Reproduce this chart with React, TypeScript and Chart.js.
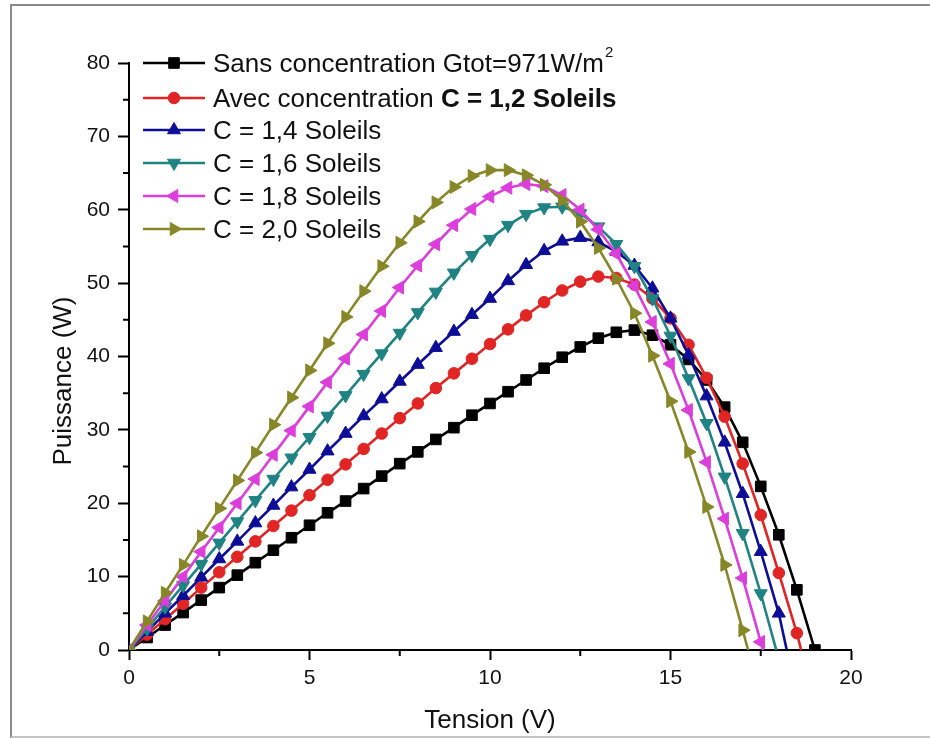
import React, { useEffect, useRef } from 'react';
import { Chart, registerables } from 'chart.js';

Chart.register(...registerables);

// ---------- data ----------
const voltage = [0, 0.5, 1, 1.5, 2, 2.5, 3, 3.5, 4, 4.5, 5, 5.5, 6, 6.5, 7, 7.5, 8, 8.5, 9, 9.5, 10, 10.5, 11, 11.5, 12, 12.5, 13, 13.5, 14, 14.5, 15, 15.5, 16, 16.5, 17, 17.5, 18, 18.5, 19];

const powerSansConcentration = [0, 1.7, 3.4, 5.1, 6.8, 8.5, 10.2, 11.9, 13.6, 15.3, 17.0, 18.7, 20.3, 22.0, 23.7, 25.4, 27.0, 28.7, 30.3, 32.0, 33.6, 35.2, 36.8, 38.4, 39.9, 41.3, 42.5, 43.3, 43.6, 42.9, 41.6, 39.6, 36.8, 33.1, 28.3, 22.3, 15.7, 8.2, 0];
const powerC12 = [0, 2.1, 4.2, 6.3, 8.5, 10.6, 12.7, 14.8, 16.9, 19.0, 21.1, 23.2, 25.3, 27.4, 29.5, 31.6, 33.6, 35.7, 37.7, 39.7, 41.7, 43.7, 45.6, 47.4, 49.0, 50.2, 50.9, 50.7, 49.8, 47.9, 45.2, 41.6, 37.1, 31.8, 25.4, 18.4, 10.5, 2.3];
const powerC14 = [0, 2.5, 5.0, 7.4, 9.9, 12.4, 14.8, 17.3, 19.7, 22.2, 24.6, 27.1, 29.5, 31.9, 34.2, 36.6, 38.9, 41.2, 43.4, 45.7, 47.9, 50.3, 52.5, 54.4, 55.7, 56.2, 55.6, 54.3, 52.4, 49.3, 45.2, 40.2, 34.6, 28.3, 21.3, 13.4, 5.0];
const powerC16 = [0, 2.9, 5.9, 8.8, 11.7, 14.6, 17.5, 20.4, 23.3, 26.2, 29.0, 31.9, 34.7, 37.6, 40.4, 43.2, 46.0, 48.8, 51.4, 53.8, 56.0, 57.9, 59.4, 60.3, 60.4, 59.5, 57.7, 55.3, 52.3, 47.9, 42.8, 37.0, 30.9, 23.6, 15.9, 7.7];
const powerC18 = [0, 3.4, 6.7, 10.0, 13.4, 16.7, 20.0, 23.3, 26.6, 29.9, 33.2, 36.5, 39.7, 43.0, 46.2, 49.4, 52.4, 55.3, 57.9, 60.1, 61.8, 63.0, 63.5, 63.2, 62.0, 60.0, 57.3, 54.0, 49.6, 44.7, 39.0, 32.7, 25.6, 17.9, 9.8, 1.1];
const powerC20 = [0, 3.9, 7.8, 11.6, 15.5, 19.3, 23.1, 26.9, 30.7, 34.4, 38.1, 41.8, 45.4, 48.9, 52.3, 55.5, 58.4, 61.0, 63.1, 64.6, 65.4, 65.4, 64.7, 63.4, 61.3, 58.4, 54.8, 50.6, 45.9, 40.1, 33.9, 27.0, 19.5, 11.6, 2.7];

// open-circuit voltage (power falls to 0) for each series
const openCircuitVoltage = [19, 18.62, 18.22, 17.93, 17.56, 17.15];

const seriesLabels = [
  'Sans concentration Gtot=971W/m²',
  'Avec concentration C = 1,2 Soleils',
  'C = 1,4 Soleils',
  'C = 1,6 Soleils',
  'C = 1,8 Soleils',
  'C = 2,0 Soleils',
];

const xTitle = 'Tension (V)';
const yTitle = 'Puissance (W)';
const xMinorTicks = [2.5, 7.5, 12.5, 17.5];
const yMinorTicks = [5, 15, 25, 35, 45, 55, 65, 75];

const allPowers = [powerSansConcentration, powerC12, powerC14, powerC16, powerC18, powerC20];

// ---------- styles ----------
const FONT = '"Liberation Sans", Arial, Helvetica, sans-serif';

const seriesStyles = [
  { color: '#000000', shape: 'rect', rotation: 0, radius: 7.5 },
  { color: '#e12424', shape: 'circle', rotation: 0, radius: 5.8 },
  { color: '#0d0d97', shape: 'triangle', rotation: 0, radius: 7.5 },
  { color: '#1f8383', shape: 'triangle', rotation: 180, radius: 7.5 },
  { color: '#dc3edc', shape: 'triangle', rotation: 270, radius: 7.5 },
  { color: '#878728', shape: 'triangle', rotation: 90, radius: 7.5 },
];

type Seg = { text: string; bold?: boolean; sup?: boolean };
const legendSegments: Seg[][] = [
  [{ text: 'Sans concentration Gtot=971W/m' }, { text: '2', sup: true }],
  [{ text: 'Avec concentration ' }, { text: 'C = 1,2 Soleils', bold: true }],
  [{ text: seriesLabels[2] }],
  [{ text: seriesLabels[3] }],
  [{ text: seriesLabels[4] }],
  [{ text: seriesLabels[5] }],
];
const legendRowsY = [63, 98, 130, 163, 196, 229];

function drawMarker(ctx: CanvasRenderingContext2D, shape: string, x: number, y: number, r: number, rotDeg: number, color: string) {
  ctx.save();
  ctx.fillStyle = color;
  ctx.strokeStyle = color;
  ctx.lineWidth = 1;
  ctx.beginPath();
  if (shape === 'rect') {
    const s = Math.SQRT1_2 * r;
    ctx.rect(x - s, y - s, 2 * s, 2 * s);
  } else if (shape === 'circle') {
    ctx.arc(x, y, r, 0, Math.PI * 2);
  } else {
    let rad = (rotDeg * Math.PI) / 180;
    ctx.moveTo(x + Math.sin(rad) * r, y - Math.cos(rad) * r);
    rad += (2 * Math.PI) / 3;
    ctx.lineTo(x + Math.sin(rad) * r, y - Math.cos(rad) * r);
    rad += (2 * Math.PI) / 3;
    ctx.lineTo(x + Math.sin(rad) * r, y - Math.cos(rad) * r);
    ctx.closePath();
  }
  ctx.fill();
  ctx.stroke();
  ctx.restore();
}

const decorPlugin = {
  id: 'decor',
  afterDraw(chart: any) {
    const ctx: CanvasRenderingContext2D = chart.ctx;
    const { left, bottom } = chart.chartArea;
    const xs = chart.scales.x;
    const ys = chart.scales.y;
    ctx.save();
    // minor ticks
    ctx.strokeStyle = '#000';
    ctx.lineWidth = 2;
    ctx.beginPath();
    xMinorTicks.forEach((v) => {
      const px = xs.getPixelForValue(v);
      ctx.moveTo(px, bottom);
      ctx.lineTo(px, bottom + 6);
    });
    yMinorTicks.forEach((v) => {
      const py = ys.getPixelForValue(v);
      ctx.moveTo(left - 6, py);
      ctx.lineTo(left, py);
    });
    ctx.stroke();

    // axis titles
    ctx.fillStyle = '#111';
    ctx.font = `26px ${FONT}`;
    ctx.textAlign = 'center';
    ctx.textBaseline = 'alphabetic';
    ctx.fillText(xTitle, (xs.left + xs.right) / 2, 728);
    ctx.save();
    ctx.translate(71, 381);
    ctx.rotate(-Math.PI / 2);
    ctx.fillText(yTitle, 0, 0);
    ctx.restore();

    // legend
    ctx.textAlign = 'left';
    legendSegments.forEach((segs, i) => {
      const st = seriesStyles[i];
      const y = legendRowsY[i];
      ctx.strokeStyle = st.color;
      ctx.lineWidth = 2.6;
      ctx.beginPath();
      ctx.moveTo(143, y);
      ctx.lineTo(205, y);
      ctx.stroke();
      drawMarker(ctx, st.shape, 174, y, st.radius, st.rotation, st.color);
      let x = 213;
      ctx.fillStyle = '#111';
      segs.forEach((s) => {
        if (s.sup) {
          ctx.font = `15px ${FONT}`;
          ctx.fillText(s.text, x + 1, y - 6);
          x += ctx.measureText(s.text).width + 1;
        } else {
          ctx.font = `${s.bold ? 'bold ' : ''}26px ${FONT}`;
          ctx.fillText(s.text, x, y + 9);
          x += ctx.measureText(s.text).width;
        }
      });
    });
    ctx.restore();
  },
};

function buildDatasets() {
  return allPowers.map((powers, i) => {
    const st = seriesStyles[i];
    const pts = powers.map((p, k) => ({ x: voltage[k], y: p }));
    const voc = openCircuitVoltage[i];
    const hasEnd = voltage[powers.length - 1] !== voc;
    if (hasEnd) pts.push({ x: voc, y: 0 });
    const n = powers.length;
    return {
      label: seriesLabels[i],
      data: pts,
      showLine: true,
      borderColor: st.color,
      backgroundColor: st.color,
      borderWidth: 2.6,
      pointStyle: st.shape,
      pointRotation: st.rotation,
      pointRadius: (c: any) => (hasEnd && c.dataIndex === n ? 0 : st.radius),
      pointBorderWidth: 1,
      pointBorderColor: st.color,
      pointBackgroundColor: st.color,
      tension: 0,
      order: 5 - i,
    };
  });
}

export default function App() {
  const ref = useRef<HTMLCanvasElement>(null);
  useEffect(() => {
    const tickFont = { family: FONT, size: 21 };
    const chart = new Chart(ref.current as HTMLCanvasElement, {
      type: 'scatter',
      data: { datasets: buildDatasets() as any },
      plugins: [decorPlugin],
      options: {
        animation: false,
        responsive: false,
        devicePixelRatio: 1,
        layout: { padding: { left: 0, top: 63, right: 79, bottom: 0 } },
        plugins: { legend: { display: false }, tooltip: { enabled: false } },
        scales: {
          x: {
            type: 'linear',
            min: 0,
            max: 20,
            ticks: { stepSize: 5, font: tickFont, color: '#111', padding: 6, maxRotation: 0 },
            grid: { drawOnChartArea: false, drawTicks: true, tickLength: 10, tickWidth: 2, tickColor: '#000' },
            border: { display: true, color: '#000', width: 2 },
            afterFit: (s: any) => {
              s.height = 88;
            },
          },
          y: {
            type: 'linear',
            min: 0,
            max: 80,
            ticks: { stepSize: 10, font: tickFont, color: '#111', padding: 8 },
            grid: { drawOnChartArea: false, drawTicks: true, tickLength: 11, tickWidth: 2, tickColor: '#000' },
            border: { display: true, color: '#000', width: 2 },
            afterFit: (s: any) => {
              s.width = 129;
            },
          },
        },
      } as any,
    });
    return () => chart.destroy();
  }, []);

  return (
    <div style={{ position: 'fixed', left: 0, top: 0, width: 930, height: 738, background: '#fff', overflow: 'hidden' }}>
      <div
        style={{
          position: 'absolute',
          left: 10,
          top: 4,
          width: 920,
          height: 734,
          boxSizing: 'border-box',
          borderLeft: '2px solid #8a8a8a',
          borderTop: '2px solid #8a8a8a',
          borderBottom: '2px solid #c4c4c4',
        }}
      />
      <canvas ref={ref} width={930} height={738} style={{ position: 'absolute', left: 0, top: 0, width: 930, height: 738 }} />
    </div>
  );
}
